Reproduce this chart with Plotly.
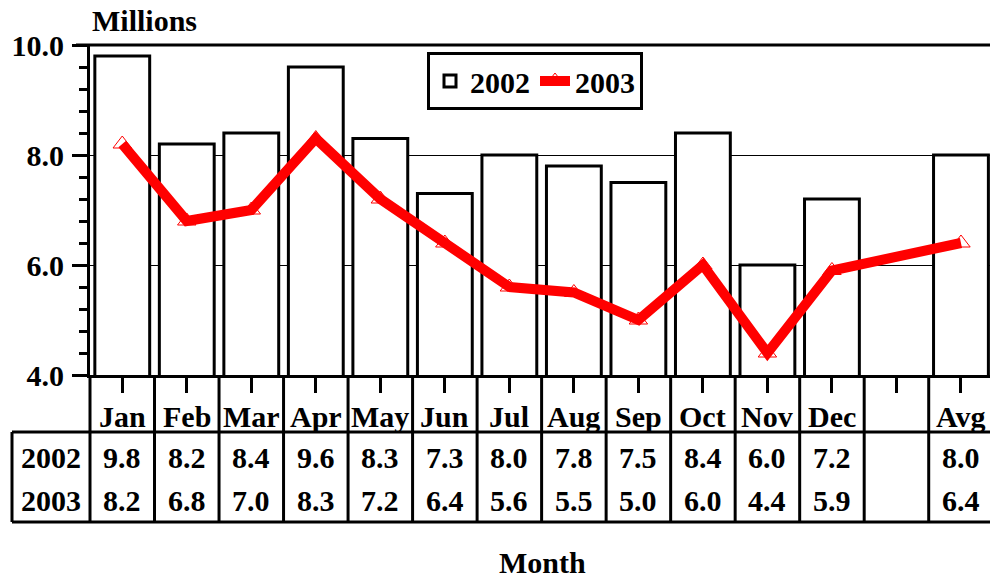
import plotly.graph_objects as go

# ---- data ----
categories = ["Jan", "Feb", "Mar", "Apr", "May", "Jun", "Jul", "Aug", "Sep",
              "Oct", "Nov", "Dec", " ", "Avg"]
data_cats = ["Jan", "Feb", "Mar", "Apr", "May", "Jun", "Jul", "Aug", "Sep",
             "Oct", "Nov", "Dec", "Avg"]
values_2002 = [9.8, 8.2, 8.4, 9.6, 8.3, 7.3, 8.0, 7.8, 7.5, 8.4, 6.0, 7.2, 8.0]
values_2003 = [8.2, 6.8, 7.0, 8.3, 7.2, 6.4, 5.6, 5.5, 5.0, 6.0, 4.4, 5.9, 6.4]
series_names = ["2002", "2003"]
y_ticks = [4, 6, 8, 10]
y_ticktext = ["4.0", "6.0", "8.0", "10.0"]

FONT = "Liberation Serif"
FS = 30
W, H = 990, 579
L, R, T, B = 90, 0, 45, 579 - 375
plot_w = W - L - R
plot_h = H - T - B


def px_x(px):
    return (px - L) / plot_w


def px_y(py):
    return (H - B - py) / plot_h


fig = go.Figure()
fig.add_trace(go.Bar(
    x=data_cats, y=values_2002, name=series_names[0], width=0.85,
    marker=dict(color="white", line=dict(color="black", width=3)),
))
fig.add_trace(go.Scatter(
    x=data_cats, y=values_2003, name=series_names[1], mode="lines+markers",
    line=dict(color="#ff0000", width=10),
    marker=dict(symbol="triangle-up-open", size=16, color="#ff0000",
                line=dict(color="#ff4040", width=1)),
))

shapes = []
# top line at 10.0
shapes.append(dict(type="line", xref="paper", yref="paper", x0=px_x(76), x1=1,
                   y0=1, y1=1, line=dict(color="black", width=3), layer="above"))
# table horizontal lines
for py in (432, 522):
    shapes.append(dict(type="line", xref="paper", yref="paper", x0=px_x(12), x1=1,
                       y0=px_y(py), y1=px_y(py), line=dict(color="black", width=3)))
# table left border and row-label separator
shapes.append(dict(type="line", xref="paper", yref="paper", x0=px_x(12), x1=px_x(12),
                   y0=px_y(432), y1=px_y(522), line=dict(color="black", width=3)))
shapes.append(dict(type="line", xref="paper", yref="paper", x0=0, x1=0,
                   y0=0, y1=px_y(522), line=dict(color="black", width=3)))
# category separators
for i in range(1, len(categories)):
    shapes.append(dict(type="line", xref="x", yref="paper", x0=i - 0.5, x1=i - 0.5,
                       y0=0, y1=px_y(522), line=dict(color="black", width=3)))

annotations = []
tf = dict(family=FONT, size=FS, color="black", weight="bold")
for c in categories:
    annotations.append(dict(x=c, xref="x", y=px_y(416), yref="paper", text=c.strip(),
                            showarrow=False, font=tf, xanchor="center", yanchor="middle"))
for name, vals, py in ((series_names[0], values_2002, 457), (series_names[1], values_2003, 500)):
    annotations.append(dict(x=px_x(51), xref="paper", y=px_y(py), yref="paper", text=name,
                            showarrow=False, font=tf, xanchor="center", yanchor="middle"))
    for c, v in zip(data_cats, vals):
        annotations.append(dict(x=c, xref="x", y=px_y(py), yref="paper", text=f"{v:.1f}",
                                showarrow=False, font=tf, xanchor="center", yanchor="middle"))
annotations.append(dict(x=px_x(542), xref="paper", y=px_y(562), yref="paper", text="Month",
                        showarrow=False, font=tf, xanchor="center", yanchor="middle"))
annotations.append(dict(x=px_x(90), xref="paper", y=px_y(20), yref="paper", text="Millions",
                        showarrow=False, font=tf, xanchor="left", yanchor="middle"))

fig.update_layout(
    width=W, height=H,
    margin=dict(l=L, r=R, t=T, b=B, pad=0),
    paper_bgcolor="white", plot_bgcolor="white",
    font=dict(family=FONT, size=FS, color="black", weight="bold"),
    showlegend=True,
    legend=dict(x=px_x(427), y=px_y(52), xanchor="left", yanchor="top",
                orientation="h", bgcolor="white", bordercolor="black", borderwidth=3,
                font=dict(family=FONT, size=FS, color="black", weight="bold"),
                itemwidth=30, tracegroupgap=0),
    xaxis=dict(type="category", categoryorder="array", categoryarray=categories,
               range=[-0.5, 13.45], showticklabels=False, showgrid=False,
               showline=True, linecolor="black", linewidth=3,
               ticks="outside", ticklen=15, tickwidth=3, tickcolor="black",
               zeroline=False),
    yaxis=dict(range=[4, 10], tickvals=y_ticks, ticktext=y_ticktext,
               showgrid=True, gridcolor="black", gridwidth=1,
               showline=True, linecolor="black", linewidth=3,
               ticks="outside", ticklen=15, tickwidth=3, tickcolor="black",
               minor=dict(dtick=0.4, ticks="outside", ticklen=8, tickwidth=3,
                          tickcolor="black", showgrid=False),
               zeroline=False, ticklabelstandoff=2,
               tickfont=dict(family=FONT, size=FS, color="black", weight="bold")),
    shapes=shapes, annotations=annotations,
    bargap=0.15,
)

fig.write_html(
    "out.html",
    config={"displayModeBar": False},
    post_script="document.body.style.margin='0px';document.body.style.overflow='hidden';",
)
